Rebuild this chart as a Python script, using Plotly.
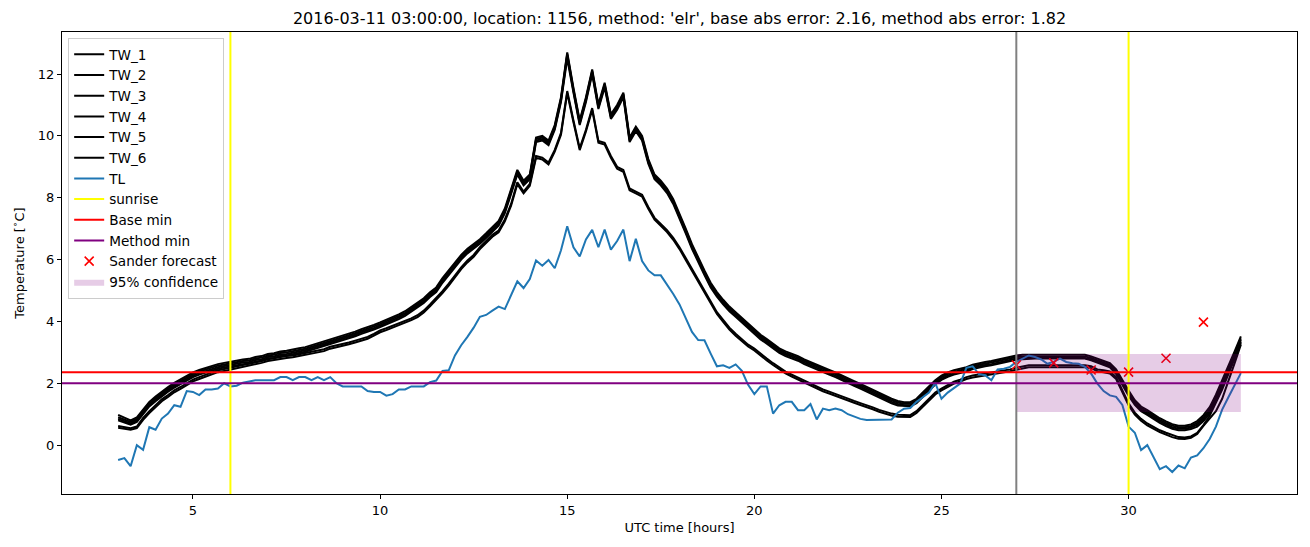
import plotly.graph_objects as go

# ---------------- data (10-minute samples from 03:00 to 33:00 UTC hours) ----------------
start_hour = 3.0
step_hours = 10.0 / 60.0

TW_1 = [0.98, 0.88, 0.80, 0.90, 1.17, 1.40,
        1.57, 1.73, 1.88, 2.01, 2.13, 2.25,
        2.35, 2.43, 2.50, 2.57, 2.62, 2.66,
        2.70, 2.72, 2.77, 2.79, 2.85, 2.88,
        2.95, 2.97, 3.03, 3.05, 3.08, 3.13,
        3.17, 3.23, 3.29, 3.35, 3.41, 3.47,
        3.55, 3.61, 3.67, 3.75, 3.81, 3.89,
        3.97, 4.05, 4.13, 4.23, 4.33, 4.47,
        4.60, 4.75, 4.94, 5.10, 5.40, 5.65,
        5.90, 6.15, 6.35, 6.50, 6.66, 6.85,
        7.05, 7.25, 7.65, 8.25, 8.90, 8.55,
        8.75, 9.95, 10.00, 9.85, 10.35, 11.25,
        12.70, 11.55, 10.50, 11.25, 12.15, 11.02,
        11.72, 10.70, 11.00, 11.40, 9.95, 10.30,
        10.00, 9.25, 8.75, 8.55, 8.30, 7.95,
        7.50, 7.00, 6.50, 6.05, 5.65, 5.25,
        4.95, 4.70, 4.48, 4.30, 4.12, 3.95,
        3.77, 3.57, 3.43, 3.27, 3.13, 3.03,
        2.95, 2.88, 2.77, 2.68, 2.60, 2.51,
        2.43, 2.35, 2.25, 2.15, 2.07, 1.98,
        1.88, 1.78, 1.68, 1.60, 1.50, 1.43,
        1.39, 1.39, 1.50, 1.70, 1.90, 2.10,
        2.25, 2.35, 2.42, 2.47, 2.52, 2.60,
        2.65, 2.69, 2.72, 2.77, 2.80, 2.85,
        2.90, 2.92, 2.92, 2.92, 2.92, 2.92,
        2.92, 2.92, 2.92, 2.92, 2.92, 2.92,
        2.87, 2.79, 2.73, 2.65, 2.45, 2.10,
        1.77, 1.45, 1.25, 1.13, 1.00, 0.87,
        0.77, 0.68, 0.63, 0.63, 0.67, 0.78,
        0.97, 1.23, 1.63, 2.08, 2.55, 3.03,
        3.52]

TW_2 = [0.90, 0.82, 0.75, 0.85, 1.12, 1.35,
        1.52, 1.68, 1.83, 1.96, 2.08, 2.20,
        2.30, 2.38, 2.45, 2.52, 2.57, 2.61,
        2.65, 2.67, 2.72, 2.74, 2.80, 2.83,
        2.90, 2.92, 2.98, 3.00, 3.03, 3.08,
        3.12, 3.18, 3.24, 3.30, 3.36, 3.42,
        3.50, 3.56, 3.62, 3.70, 3.76, 3.84,
        3.92, 4.00, 4.08, 4.18, 4.28, 4.42,
        4.55, 4.70, 4.89, 5.05, 5.35, 5.60,
        5.85, 6.10, 6.30, 6.45, 6.61, 6.80,
        7.00, 7.20, 7.60, 8.20, 8.85, 8.50,
        8.70, 9.90, 9.95, 9.80, 10.30, 11.20,
        12.65, 11.50, 10.45, 11.20, 12.10, 10.97,
        11.67, 10.65, 10.95, 11.35, 9.90, 10.25,
        9.95, 9.20, 8.70, 8.50, 8.25, 7.90,
        7.45, 6.95, 6.45, 6.00, 5.60, 5.20,
        4.90, 4.65, 4.43, 4.25, 4.07, 3.90,
        3.72, 3.52, 3.38, 3.22, 3.08, 2.98,
        2.90, 2.83, 2.72, 2.63, 2.55, 2.46,
        2.38, 2.30, 2.20, 2.10, 2.02, 1.93,
        1.83, 1.73, 1.63, 1.55, 1.45, 1.38,
        1.34, 1.34, 1.45, 1.65, 1.85, 2.05,
        2.20, 2.30, 2.37, 2.42, 2.47, 2.55,
        2.60, 2.64, 2.67, 2.72, 2.75, 2.80,
        2.85, 2.87, 2.87, 2.87, 2.87, 2.87,
        2.87, 2.87, 2.87, 2.87, 2.87, 2.87,
        2.82, 2.74, 2.68, 2.60, 2.40, 2.05,
        1.72, 1.40, 1.20, 1.08, 0.95, 0.82,
        0.72, 0.63, 0.58, 0.58, 0.62, 0.72,
        0.90, 1.15, 1.55, 2.00, 2.45, 2.95,
        3.45]

TW_3 = [0.85, 0.78, 0.70, 0.80, 1.07, 1.30,
        1.47, 1.63, 1.78, 1.91, 2.03, 2.15,
        2.25, 2.33, 2.40, 2.47, 2.52, 2.56,
        2.60, 2.62, 2.67, 2.69, 2.75, 2.78,
        2.85, 2.87, 2.93, 2.95, 2.98, 3.03,
        3.07, 3.13, 3.19, 3.25, 3.31, 3.37,
        3.45, 3.51, 3.57, 3.65, 3.71, 3.79,
        3.87, 3.95, 4.03, 4.13, 4.23, 4.37,
        4.50, 4.65, 4.84, 5.00, 5.30, 5.55,
        5.80, 6.05, 6.25, 6.40, 6.56, 6.75,
        6.95, 7.15, 7.55, 8.15, 8.80, 8.45,
        8.65, 9.85, 9.90, 9.75, 10.25, 11.15,
        12.60, 11.45, 10.40, 11.15, 12.05, 10.92,
        11.62, 10.60, 10.90, 11.30, 9.85, 10.20,
        9.90, 9.15, 8.65, 8.45, 8.20, 7.85,
        7.40, 6.90, 6.40, 5.95, 5.55, 5.15,
        4.85, 4.60, 4.38, 4.20, 4.02, 3.85,
        3.67, 3.47, 3.33, 3.17, 3.03, 2.93,
        2.85, 2.78, 2.67, 2.58, 2.50, 2.41,
        2.33, 2.25, 2.15, 2.05, 1.97, 1.88,
        1.78, 1.68, 1.58, 1.50, 1.40, 1.33,
        1.29, 1.29, 1.40, 1.60, 1.80, 2.00,
        2.15, 2.25, 2.32, 2.37, 2.42, 2.50,
        2.55, 2.59, 2.62, 2.67, 2.70, 2.75,
        2.80, 2.82, 2.82, 2.82, 2.82, 2.82,
        2.82, 2.82, 2.82, 2.82, 2.82, 2.82,
        2.77, 2.69, 2.63, 2.55, 2.35, 2.00,
        1.67, 1.35, 1.15, 1.03, 0.90, 0.77,
        0.67, 0.58, 0.53, 0.53, 0.57, 0.66,
        0.84, 1.08, 1.48, 1.93, 2.38, 2.88,
        3.40]

TW_4 = [0.80, 0.72, 0.66, 0.75, 1.02, 1.25,
        1.42, 1.58, 1.73, 1.86, 1.98, 2.10,
        2.20, 2.28, 2.35, 2.42, 2.47, 2.51,
        2.55, 2.57, 2.62, 2.64, 2.70, 2.73,
        2.80, 2.82, 2.88, 2.90, 2.93, 2.98,
        3.02, 3.08, 3.14, 3.20, 3.26, 3.32,
        3.40, 3.46, 3.52, 3.60, 3.66, 3.74,
        3.82, 3.90, 3.98, 4.08, 4.18, 4.32,
        4.45, 4.60, 4.79, 4.95, 5.25, 5.50,
        5.75, 6.00, 6.20, 6.35, 6.51, 6.70,
        6.90, 7.10, 7.50, 8.10, 8.75, 8.40,
        8.60, 9.80, 9.85, 9.70, 10.20, 11.10,
        12.50, 11.40, 10.35, 11.10, 12.00, 10.87,
        11.57, 10.55, 10.85, 11.25, 9.80, 10.15,
        9.85, 9.10, 8.60, 8.40, 8.15, 7.80,
        7.35, 6.85, 6.35, 5.90, 5.50, 5.10,
        4.80, 4.55, 4.33, 4.15, 3.97, 3.80,
        3.62, 3.42, 3.28, 3.12, 2.98, 2.88,
        2.80, 2.73, 2.62, 2.53, 2.45, 2.36,
        2.28, 2.20, 2.10, 2.00, 1.92, 1.83,
        1.73, 1.63, 1.53, 1.45, 1.35, 1.28,
        1.26, 1.26, 1.36, 1.56, 1.76, 1.96,
        2.11, 2.21, 2.28, 2.33, 2.38, 2.46,
        2.51, 2.55, 2.58, 2.63, 2.66, 2.71,
        2.76, 2.78, 2.80, 2.80, 2.80, 2.80,
        2.80, 2.80, 2.80, 2.80, 2.80, 2.80,
        2.74, 2.66, 2.60, 2.52, 2.30, 1.95,
        1.60, 1.30, 1.10, 0.98, 0.85, 0.72,
        0.62, 0.53, 0.48, 0.48, 0.52, 0.60,
        0.78, 1.02, 1.42, 1.87, 2.32, 2.82,
        3.35]

TW_5 = [0.62, 0.58, 0.55, 0.60, 0.88, 1.10,
        1.30, 1.48, 1.62, 1.77, 1.88, 2.00,
        2.12, 2.20, 2.28, 2.36, 2.42, 2.46,
        2.50, 2.55, 2.58, 2.62, 2.68, 2.72,
        2.78, 2.82, 2.86, 2.88, 2.90, 2.93,
        2.98, 3.02, 3.06, 3.10, 3.18, 3.22,
        3.27, 3.32, 3.38, 3.44, 3.50, 3.60,
        3.71, 3.78, 3.86, 3.93, 4.02, 4.10,
        4.20, 4.35, 4.55, 4.75, 4.98, 5.22,
        5.50, 5.75, 5.97, 6.15, 6.40, 6.60,
        6.80, 6.94, 7.30, 7.80, 8.50, 8.20,
        8.45, 9.35, 9.30, 9.14, 9.55, 10.10,
        11.45, 10.50, 9.60, 10.20, 10.90, 9.84,
        9.78, 9.35, 9.00, 8.90, 8.30, 8.20,
        8.10, 7.70, 7.35, 7.15, 6.95, 6.70,
        6.40, 6.05, 5.70, 5.35, 5.00, 4.65,
        4.30, 4.05, 3.80, 3.60, 3.42, 3.25,
        3.12, 2.95, 2.80, 2.65, 2.50, 2.38,
        2.28, 2.18, 2.08, 1.98, 1.90, 1.80,
        1.73, 1.65, 1.57, 1.50, 1.43, 1.36,
        1.30, 1.22, 1.14, 1.07, 1.02, 0.98,
        0.97, 0.97, 1.10, 1.30, 1.50, 1.70,
        1.83, 1.95, 2.05, 2.12, 2.20, 2.25,
        2.28, 2.32, 2.35, 2.37, 2.40, 2.45,
        2.50, 2.55, 2.58, 2.58, 2.58, 2.58,
        2.58, 2.58, 2.58, 2.58, 2.58, 2.58,
        2.55, 2.45, 2.42, 2.38, 2.20, 1.80,
        1.35, 1.05, 0.85, 0.70, 0.58, 0.48,
        0.40, 0.32, 0.26, 0.25, 0.28, 0.40,
        0.65, 0.95, 1.35, 1.80, 2.30, 2.80,
        3.30]

TW_6 = [0.56, 0.52, 0.50, 0.55, 0.82, 1.04,
        1.24, 1.42, 1.56, 1.71, 1.82, 1.94,
        2.06, 2.14, 2.22, 2.30, 2.36, 2.40,
        2.44, 2.49, 2.52, 2.56, 2.62, 2.66,
        2.72, 2.76, 2.80, 2.82, 2.84, 2.87,
        2.92, 2.96, 3.00, 3.04, 3.12, 3.16,
        3.21, 3.26, 3.32, 3.38, 3.44, 3.54,
        3.65, 3.72, 3.80, 3.87, 3.96, 4.04,
        4.14, 4.29, 4.49, 4.69, 4.92, 5.16,
        5.44, 5.69, 5.91, 6.09, 6.34, 6.54,
        6.74, 6.88, 7.24, 7.74, 8.44, 8.14,
        8.39, 9.29, 9.24, 9.08, 9.49, 10.04,
        11.39, 10.44, 9.54, 10.14, 10.84, 9.78,
        9.72, 9.29, 8.94, 8.84, 8.24, 8.14,
        8.04, 7.64, 7.29, 7.09, 6.89, 6.64,
        6.34, 5.99, 5.64, 5.29, 4.94, 4.59,
        4.24, 3.99, 3.74, 3.54, 3.36, 3.19,
        3.06, 2.89, 2.74, 2.59, 2.44, 2.32,
        2.22, 2.12, 2.02, 1.92, 1.84, 1.74,
        1.67, 1.59, 1.51, 1.44, 1.37, 1.30,
        1.24, 1.16, 1.08, 1.01, 0.96, 0.92,
        0.91, 0.91, 1.04, 1.24, 1.44, 1.64,
        1.77, 1.89, 1.99, 2.06, 2.14, 2.19,
        2.22, 2.26, 2.29, 2.31, 2.34, 2.39,
        2.44, 2.49, 2.52, 2.52, 2.52, 2.52,
        2.52, 2.52, 2.52, 2.52, 2.52, 2.52,
        2.49, 2.39, 2.36, 2.32, 2.14, 1.74,
        1.29, 0.99, 0.79, 0.64, 0.52, 0.42,
        0.34, 0.26, 0.21, 0.20, 0.24, 0.36,
        0.62, 0.88, 1.10, 1.50, 2.05, 2.65,
        3.25]

TL = [-0.48, -0.42, -0.68, 0.00, -0.15, 0.58,
      0.50, 0.86, 1.02, 1.29, 1.24, 1.75,
      1.72, 1.62, 1.80, 1.80, 1.83, 2.00,
      1.90, 1.92, 2.02, 2.05, 2.10, 2.10,
      2.10, 2.10, 2.20, 2.20, 2.10, 2.20,
      2.20, 2.10, 2.20, 2.10, 2.20, 2.00,
      1.90, 1.90, 1.90, 1.90, 1.75, 1.72,
      1.72, 1.60, 1.65, 1.80, 1.80, 1.90,
      1.90, 1.90, 2.04, 2.09, 2.40, 2.42,
      2.90, 3.23, 3.50, 3.80, 4.15, 4.21,
      4.35, 4.48, 4.40, 4.85, 5.30, 5.08,
      5.37, 5.97, 5.80, 5.99, 5.72, 6.30,
      7.08, 6.40, 6.10, 6.65, 6.96, 6.40,
      6.97, 6.32, 6.60, 6.97, 5.95, 6.67,
      5.95, 5.65, 5.49, 5.49, 5.20, 4.89,
      4.55, 4.10, 3.66, 3.40, 3.39, 2.96,
      2.55, 2.58, 2.50, 2.61, 2.40, 1.95,
      1.65, 1.90, 1.90, 1.02, 1.29, 1.40,
      1.40, 1.13, 1.13, 1.33, 0.83, 1.18,
      1.13, 1.18, 1.13, 1.00, 0.92, 0.85,
      0.81, 0.81, 0.81, 0.83, 0.83, 1.05,
      1.18, 1.20, 1.40, 1.55, 1.70, 2.01,
      1.50, 1.70, 1.85, 1.99, 2.50, 2.55,
      2.30, 2.26, 2.10, 2.45, 2.47, 2.53,
      2.69, 2.80, 2.90, 2.85, 2.77, 2.63,
      2.70, 2.80, 2.69, 2.65, 2.63, 2.53,
      2.31, 1.99, 1.75, 1.61, 1.56, 1.30,
      0.60, 0.40, -0.16, 0.00, -0.38, -0.78,
      -0.68, -0.87, -0.66, -0.75, -0.40, -0.33,
      -0.10, 0.20, 0.60, 1.15, 1.55, 1.95,
      2.33]

sunrise_hours = [6.0, 30.0]
forecast_hour = 27.0
base_min = 2.36
method_min = 2.00

sander_hours = [27, 28, 29, 30, 31, 32]
sander_values = [2.59, 2.66, 2.43, 2.36, 2.81, 3.98]

conf_hours = [27.0, 33.0]
conf_low = [1.07, 1.07]
conf_high = [2.95, 2.95]

title_text = ("2016-03-11 03:00:00, location: 1156, method: 'elr', "
              "base abs error: 2.16, method abs error: 1.82")

# ---------------- figure ----------------
hours = [start_hour + i * step_hours for i in range(len(TL))]

fig = go.Figure()
for name, series in [("TW_1", TW_1), ("TW_2", TW_2), ("TW_3", TW_3),
                     ("TW_4", TW_4), ("TW_5", TW_5), ("TW_6", TW_6)]:
    fig.add_trace(go.Scatter(x=hours, y=series, mode="lines", name=name,
                             line=dict(color="black", width=2)))
fig.add_trace(go.Scatter(x=hours, y=TL, mode="lines", name="TL",
                         line=dict(color="#1f77b4", width=2)))

# legend-only entries for the reference lines (drawn as shapes below)
fig.add_trace(go.Scatter(x=[None], y=[None], mode="lines", name="sunrise",
                         line=dict(color="yellow", width=2)))
fig.add_trace(go.Scatter(x=[None], y=[None], mode="lines", name="Base min",
                         line=dict(color="red", width=2)))
fig.add_trace(go.Scatter(x=[None], y=[None], mode="lines", name="Method min",
                         line=dict(color="purple", width=2)))

fig.add_trace(go.Scatter(x=sander_hours, y=sander_values, mode="markers",
                         name="Sander forecast",
                         marker=dict(symbol="x-thin", size=9, color="red",
                                     line=dict(color="red", width=1.6))))

fig.add_trace(go.Scatter(x=conf_hours, y=conf_low, mode="lines",
                         line=dict(width=0, color="rgba(0,0,0,0)"),
                         showlegend=False, hoverinfo="skip"))
fig.add_trace(go.Scatter(x=conf_hours, y=conf_high, mode="lines",
                         name="95% confidence", fill="tonexty",
                         fillcolor="rgba(128,0,128,0.2)",
                         line=dict(width=0, color="rgba(128,0,128,0.2)")))

for h in sunrise_hours:
    fig.add_shape(type="line", xref="x", yref="y domain", x0=h, x1=h, y0=0, y1=1,
                  line=dict(color="yellow", width=2), layer="above")
fig.add_shape(type="line", xref="x", yref="y domain", x0=forecast_hour, x1=forecast_hour,
              y0=0, y1=1, line=dict(color="gray", width=2), layer="above")
fig.add_shape(type="line", xref="x domain", yref="y", x0=0, x1=1, y0=base_min, y1=base_min,
              line=dict(color="red", width=2), layer="above")
fig.add_shape(type="line", xref="x domain", yref="y", x0=0, x1=1, y0=method_min, y1=method_min,
              line=dict(color="purple", width=2), layer="above")

font_family = "DejaVu Sans"
fig.update_layout(
    width=1310, height=547,
    margin=dict(l=62, r=13, t=32, b=53),
    paper_bgcolor="white", plot_bgcolor="white",
    font=dict(family=font_family, size=13, color="black"),
    title=dict(text=title_text, x=0.5, xref="paper", xanchor="center",
               y=1 - 18 / 547, yref="container", yanchor="middle",
               font=dict(family=font_family, size=16, color="black")),
    showlegend=True,
    legend=dict(x=0.005, y=0.987, xanchor="left", yanchor="top",
                traceorder="normal",
                bgcolor="rgba(255,255,255,0.8)", bordercolor="#cccccc", borderwidth=1,
                font=dict(family=font_family, size=13.6, color="black"),
                itemwidth=30),
)
fig.update_xaxes(range=[1.5, 34.5], tickvals=[5, 10, 15, 20, 25, 30],
                 ticks="outside", ticklen=4, tickwidth=1, tickcolor="black",
                 showline=True, linecolor="black", linewidth=1, mirror=True,
                 showgrid=False, zeroline=False,
                 tickfont=dict(family=font_family, size=13),
                 title=dict(text="UTC time [hours]", standoff=6,
                            font=dict(family=font_family, size=13)))
fig.update_yaxes(range=[-1.58, 13.36], tickvals=[0, 2, 4, 6, 8, 10, 12],
                 ticks="outside", ticklen=4, tickwidth=1, tickcolor="black",
                 showline=True, linecolor="black", linewidth=1, mirror=True,
                 showgrid=False, zeroline=False,
                 tickfont=dict(family=font_family, size=13),
                 title=dict(text="Temperature [<sup>∘</sup>C]", standoff=10,
                            font=dict(family=font_family, size=13)))

fig.write_html("out.html")
